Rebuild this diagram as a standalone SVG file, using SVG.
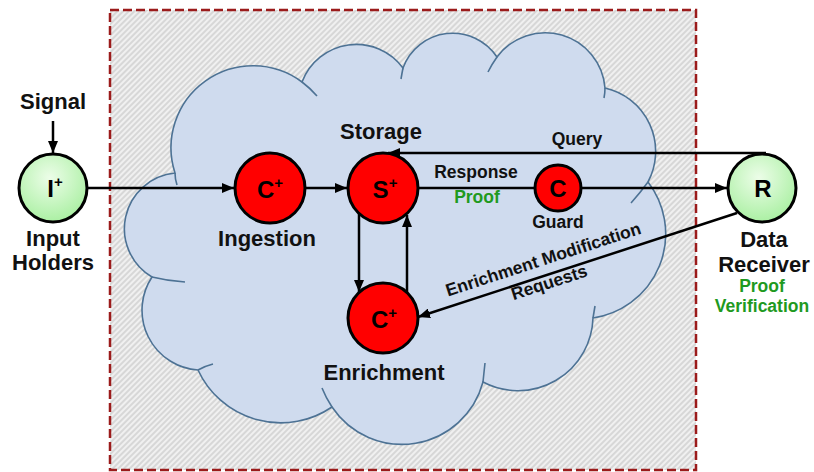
<svg xmlns="http://www.w3.org/2000/svg" width="814" height="472" viewBox="0 0 814 472">
  <defs>
    <pattern id="hatch" patternUnits="userSpaceOnUse" width="4" height="4" patternTransform="rotate(45)">
      <rect width="4" height="4" fill="#d7d7d7"/>
      <rect width="2" height="4" fill="#f0f0f0"/>
    </pattern>
    <radialGradient id="greenFill" cx="0.45" cy="0.35" r="0.7">
      <stop offset="0" stop-color="#ecfde8"/>
      <stop offset="1" stop-color="#a6ef9e"/>
    </radialGradient>
    <marker id="arrow" viewBox="0 0 12 10" refX="12" refY="5" markerWidth="12" markerHeight="10" markerUnits="userSpaceOnUse" orient="auto">
      <path d="M0,0 L12,5 L0,10 Z" fill="#000"/>
    </marker>
  </defs>
  <style>
    .lbl { font-family: "Liberation Sans", Arial, sans-serif; font-weight: bold; fill: #111; text-anchor: middle; }
    .big { font-size: 22px; }
    .mid { font-size: 17.5px; }
    .green { fill: #1f9a1f; }
    .red { fill: #ff0000; stroke: #000; stroke-width: 3; }
    .grn { fill: url(#greenFill); stroke: #000; stroke-width: 3; }
    .sym { font-family: "Liberation Sans", Arial, sans-serif; font-weight: bold; font-size: 24px; fill: #000; text-anchor: middle; }
    .edge { stroke: #000; stroke-width: 2.5; fill: none; }
    .cloud { fill: #cfdbee; stroke: #4d7294; stroke-width: 1.6; }
    .tick { fill: none; stroke: #4d7294; stroke-width: 1.6; }
  </style>

  <!-- trust boundary -->
  <rect x="110" y="10" width="586" height="460" fill="url(#hatch)" stroke="#9b1b1b" stroke-width="2.5" stroke-dasharray="9 4"/>

  <!-- cloud -->
  <g id="cloud">
    <path class="cloud" d="M175,173 A82,82 0 0 1 302,82 A58,58 0 0 1 403,68 A53,53 0 0 1 497,57 A60,60 0 0 1 605,88 A65,65 0 0 1 648,182 A85,85 0 0 1 593,318 A75,75 0 0 1 483,382 A84,84 0 0 1 332,407 A91,91 0 0 1 198,370 A60,60 0 0 1 152,277 A56,56 0 0 1 175,173 Z"/>
    <path class="tick" d="M175,173 Q175,179 177,185"/>
    <path class="tick" d="M302,82 Q310,88 317,96"/>
    <path class="tick" d="M403,68 Q402,73 401,79"/>
    <path class="tick" d="M497,57 Q492,64 488,72"/>
    <path class="tick" d="M605,88 Q605,93 604,98"/>
    <path class="tick" d="M648,182 Q640,193 631,203"/>
    <path class="tick" d="M593,318 Q594,312 595,306"/>
    <path class="tick" d="M483,382 Q484,372 485,363"/>
    <path class="tick" d="M332,407 Q326,398 322,388"/>
    <path class="tick" d="M198,370 Q205,366 213,364"/>
    <path class="tick" d="M152,277 Q168,281 185,282"/>
  </g>

  <!-- connectors -->
  <g id="connectors">
    <line class="edge" x1="53" y1="121" x2="53" y2="153" marker-end="url(#arrow)"/>
    <line class="edge" x1="88" y1="188" x2="234" y2="188" marker-end="url(#arrow)"/>
    <line class="edge" x1="305" y1="188" x2="347" y2="188" marker-end="url(#arrow)"/>
    <line class="edge" x1="766" y1="153" x2="388" y2="153" marker-end="url(#arrow)"/>
    <line class="edge" x1="418" y1="188" x2="535" y2="188"/>
    <line class="edge" x1="581" y1="188" x2="727" y2="188" marker-end="url(#arrow)"/>
    <line class="edge" x1="359" y1="214" x2="359" y2="292" marker-end="url(#arrow)"/>
    <line class="edge" x1="407" y1="292" x2="407" y2="215" marker-end="url(#arrow)"/>
    <line class="edge" x1="737" y1="213" x2="418" y2="317" marker-end="url(#arrow)"/>
    <text class="lbl mid" x="577" y="145">Query</text>
    <text class="lbl mid" x="476" y="178">Response</text>
    <text class="lbl mid green" x="477" y="203">Proof</text>
    <text class="lbl mid" x="545" y="265" transform="rotate(-18 545 265)">Enrichment Modification</text>
    <text class="lbl mid" x="551" y="288" transform="rotate(-18 551 288)">Requests</text>
  </g>

  <!-- input holders -->
  <g id="input">
    <text class="lbl big" x="53" y="109">Signal</text>
    <circle class="grn" cx="53" cy="188" r="34"/>
    <text class="sym" x="55" y="197">I<tspan font-size="15" dy="-10">+</tspan></text>
    <text class="lbl big" x="53" y="246">Input</text>
    <text class="lbl big" x="53" y="270">Holders</text>
  </g>

  <!-- ingestion -->
  <g id="ingestion">
    <circle class="red" cx="270" cy="188" r="35"/>
    <text class="sym" x="270" y="198">C<tspan font-size="15" dy="-10">+</tspan></text>
    <text class="lbl big" x="267" y="246">Ingestion</text>
  </g>

  <!-- storage -->
  <g id="storage">
    <text class="lbl big" x="381" y="139">Storage</text>
    <circle class="red" cx="383" cy="188" r="35"/>
    <text class="sym" x="385" y="198">S<tspan font-size="15" dy="-10">+</tspan></text>
  </g>

  <!-- guard -->
  <g id="guard">
    <circle class="red" cx="558" cy="188" r="23"/>
    <text class="sym" x="558" y="197">C</text>
    <text class="lbl mid" x="558" y="228">Guard</text>
  </g>

  <!-- enrichment -->
  <g id="enrichment">
    <circle class="red" cx="383" cy="318" r="35"/>
    <text class="sym" x="384" y="328">C<tspan font-size="15" dy="-10">+</tspan></text>
    <text class="lbl big" x="384" y="380">Enrichment</text>
  </g>

  <!-- data receiver -->
  <g id="receiver">
    <circle class="grn" cx="762" cy="188" r="34"/>
    <text class="sym" x="763" y="197">R</text>
    <text class="lbl big" x="764" y="247">Data</text>
    <text class="lbl big" x="764" y="272">Receiver</text>
    <text class="lbl mid green" x="762" y="292">Proof</text>
    <text class="lbl mid green" x="762" y="312">Verification</text>
  </g>
</svg>
